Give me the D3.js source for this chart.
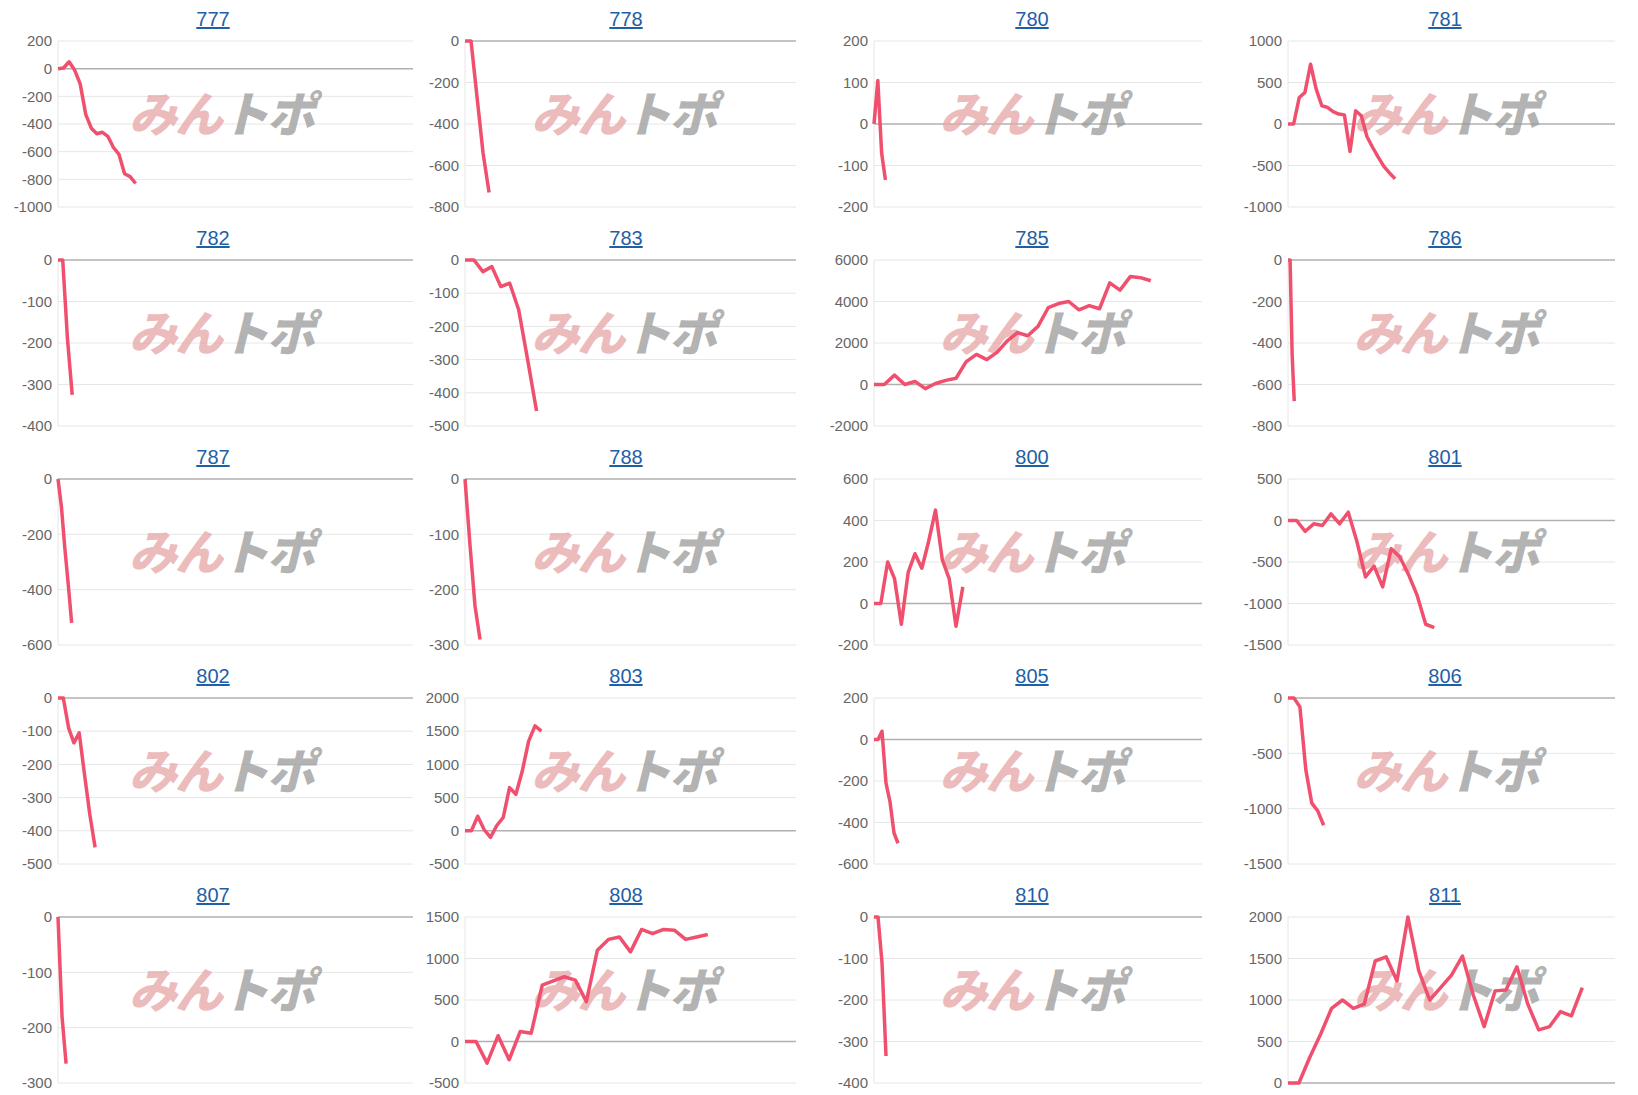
<!DOCTYPE html>
<html>
<head>
<meta charset="utf-8">
<script src="https://cdn.jsdelivr.net/npm/d3@7"></script>
<style>
body { margin: 0; background: #fff; }
svg { display: block; }
</style>
</head>
<body>
<svg width="1638" height="1095"></svg>
<script>
// panel names, in reading order
var names = ["777", "778", "780", "781", "782", "783", "785", "786", "787", "788",
             "800", "801", "802", "803", "805", "806", "807", "808", "810", "811"];

// y ranges and tick step
var yMin = [-1000, -800, -200, -1000, -400, -500, -2000, -800, -600, -300,
            -200, -1500, -500, -500, -600, -1500, -300, -500, -400, 0];
var yMax = [200, 0, 200, 1000, 0, 0, 6000, 0, 0, 0,
            600, 500, 0, 2000, 200, 0, 0, 1500, 0, 2000];
var yStep = [200, 200, 100, 500, 100, 100, 2000, 200, 200, 100,
             200, 500, 100, 500, 200, 500, 100, 500, 100, 500];

// x slots per panel
var xSlots = [64, 55, 86, 58, 75, 37, 32, 157, 104, 66,
              48, 38, 67, 52, 82, 55, 88, 30, 82, 30];

var s777 = [0, 5, 50, -10, -110, -330, -430, -470, -460, -490, -570, -620, -760, -780, -830];
var s778 = [0, 0, -270, -540, -730];
var s780 = [0, 105, -70, -135];
var s781 = [0, 0, 320, 380, 720, 420, 220, 200, 150, 120, 110, -330, 160, 100, -150, -280, -400, -510, -590, -660];
var s782 = [0, 0, -190, -325];
var s783 = [0, 0, -35, -20, -80, -70, -150, -300, -455];
var s785 = [0, 0, 450, 0, 150, -200, 50, 200, 300, 1100, 1450, 1200, 1550, 2100, 2500, 2350, 2800, 3700, 3900, 4000, 3600, 3800, 3650, 4900, 4550, 5200, 5150, 5000];
var s786 = [0, 0, -460, -680];
var s787 = [0, -100, -250, -380, -520];
var s788 = [0, -120, -230, -290];
var s800 = [0, 0, 200, 120, -100, 150, 240, 170, 300, 450, 210, 120, -110, 80];
var s801 = [0, 0, -130, -40, -60, 80, -40, 100, -250, -680, -550, -800, -340, -440, -650, -900, -1250, -1290];
var s802 = [0, 0, -90, -135, -105, -230, -350, -450];
var s803 = [0, 0, 220, 20, -100, 80, 200, 650, 550, 900, 1350, 1580, 1500];
var s805 = [0, 0, 40, -210, -300, -450, -500];
var s806 = [0, 0, -80, -650, -950, -1020, -1150];
var s807 = [0, -180, -265];
var s808 = [0, 0, -260, 70, -220, 120, 100, 680, 730, 780, 740, 480, 1100, 1230, 1260, 1080, 1350, 1300, 1350, 1340, 1230, 1260, 1290];
var s810 = [0, 0, -110, -335];
var s811 = [0, 0, 310, 590, 900, 1000, 900, 950, 1470, 1520, 1230, 2000, 1350, 1000, 1150, 1300, 1530, 1060, 680, 1110, 1120, 1400, 950, 640, 680, 860, 810, 1150];

var series = [s777, s778, s780, s781, s782, s783, s785, s786, s787, s788,
              s800, s801, s802, s803, s805, s806, s807, s808, s810, s811];

// layout per column / row
var colX0 = [58, 465, 874, 1288], colX1 = [413, 796, 1202, 1615];
var colTitle = [213, 626, 1032, 1445];
var rowH = 219, plotTop = 41, plotH = 166;

var svg = d3.select("svg");

names.forEach(function (name, i) {
    var c = i % 4, r = Math.floor(i / 4);
    var g = svg.append("g").attr("transform", "translate(0," + (r * rowH) + ")");

    var x = d3.scaleLinear().domain([0, xSlots[i]]).range([colX0[c], colX1[c]]);
    var y = d3.scaleLinear().domain([yMin[i], yMax[i]]).range([plotTop + plotH, plotTop]);
    var ticks = d3.range(yMin[i], yMax[i] + 1, yStep[i]);

    // title
    g.append("text")
        .attr("x", colTitle[c]).attr("y", 26)
        .attr("text-anchor", "middle")
        .attr("font-family", "Liberation Sans, Arial, sans-serif")
        .attr("font-size", 20)
        .attr("fill", "#1f5fa6")
        .attr("text-decoration", "underline")
        .text(name);

    // grid
    g.selectAll(".grid").data(ticks).enter().append("line")
        .attr("x1", colX0[c]).attr("x2", colX1[c])
        .attr("y1", function (d) { return y(d); })
        .attr("y2", function (d) { return y(d); })
        .attr("stroke", function (d) { return d === 0 ? "#b0b0b0" : "#e6e6e6"; })
        .attr("stroke-width", function (d) { return d === 0 ? 1.5 : 1; });

    g.append("line")
        .attr("x1", colX0[c]).attr("x2", colX0[c])
        .attr("y1", plotTop).attr("y2", plotTop + plotH)
        .attr("stroke", "#e6e6e6");

    g.selectAll(".tick").data(ticks).enter().append("text")
        .attr("x", colX0[c] - 6)
        .attr("y", function (d) { return y(d); })
        .attr("dy", "0.35em")
        .attr("text-anchor", "end")
        .attr("font-family", "Liberation Sans, Arial, sans-serif")
        .attr("font-size", 15)
        .attr("fill", "#666")
        .text(function (d) { return d; });

    // watermark
    var wx = colX0[c] + (colX1[c] - colX0[c]) * 0.2;
    var wm = g.append("text")
        .attr("x", wx).attr("y", 132)
        .attr("font-family", "Noto Sans CJK JP, sans-serif")
        .attr("font-size", 48)
        .attr("font-weight", 900)
        .attr("font-style", "italic")
        .attr("letter-spacing", -2);
    wm.append("tspan").attr("fill", "#e7a9aa").attr("fill-opacity", 0.8).text("みん");
    wm.append("tspan").attr("fill", "#9a9a9a").attr("fill-opacity", 0.75).text("トポ");

    // line
    var line = d3.line()
        .x(function (d, k) { return x(k); })
        .y(function (d) { return y(d); });

    g.append("path")
        .datum(series[i])
        .attr("d", line)
        .attr("fill", "none")
        .attr("stroke", "#f0506e")
        .attr("stroke-width", 3.5)
        .attr("stroke-linejoin", "round");
});
</script>
</body>
</html>
